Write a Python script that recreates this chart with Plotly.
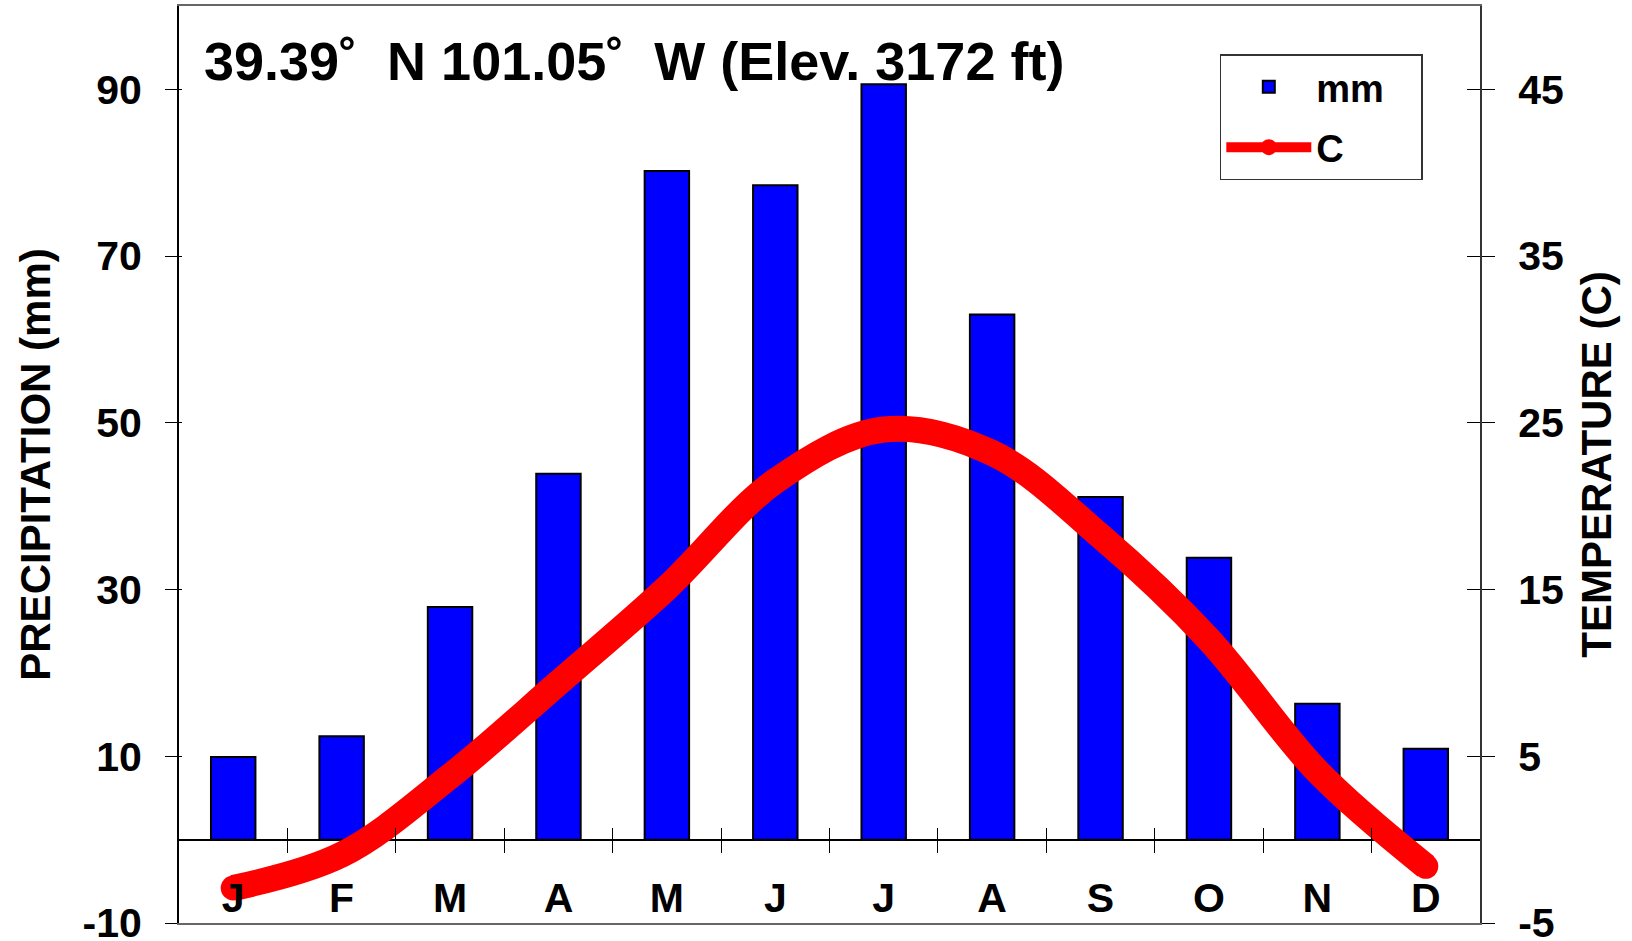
import plotly.graph_objects as go

month_labels = ["J", "F", "M", "A", "M", "J", "J", "A", "S", "O", "N", "D"]
precip_mm = [9.9, 12.4, 27.9, 43.9, 80.2, 78.5, 90.6, 63.0, 41.1, 33.8, 16.3, 10.9]
temp_c = [-2.9, -0.9, 3.8, 9.4, 15.1, 21.5, 24.6, 23.2, 18.2, 12.0, 4.1, -1.6]
left_ticks = [-10, 10, 30, 50, 70, 90]
left_labels = ["-10", "10", "30", "50", "70", "90"]
right_ticks = [-5, 5, 15, 25, 35, 45]
right_labels = ["-5", "5", "15", "25", "35", "45"]
boundaries = [i + 0.5 for i in range(11)]
title_text = "39.39˚  N 101.05˚  W (Elev. 3172 ft)"

FONT = "Liberation Sans"
BLACK = "#000000"
xs = list(range(12))
PAD = "\u00a0\u00a0\u00a0"

fig = go.Figure()
fig.add_trace(go.Bar(
    x=xs, y=precip_mm, name="mm" + PAD, width=0.41, legendgroup="a",
    marker=dict(color="#0000FF", line=dict(color=BLACK, width=2)),
))
fig.add_trace(go.Scatter(
    x=xs, y=temp_c, name="C", yaxis="y2", mode="lines+markers", legendgroup="b",
    line=dict(color="#FF0000", width=26, shape="spline", smoothing=1.0),
    marker=dict(color="#FF0000", size=25, symbol="circle", line=dict(width=0)),
))
# helper empty traces so the decoration axes are drawn
fig.add_trace(go.Scatter(x=[], y=[], xaxis="x2", yaxis="y", showlegend=False))
fig.add_trace(go.Scatter(x=[], y=[], xaxis="x3", yaxis="y", showlegend=False))
fig.add_trace(go.Scatter(x=[], y=[], xaxis="x4", yaxis="y", showlegend=False))
fig.add_trace(go.Scatter(x=[], y=[], xaxis="x", yaxis="y3", showlegend=False))
fig.add_trace(go.Scatter(x=[], y=[], xaxis="x", yaxis="y4", showlegend=False))

tickfont = dict(family=FONT, size=41, color=BLACK, weight="bold")
zero_pos = 10 / 110

fig.update_layout(
    width=1632, height=941,
    margin=dict(l=179, r=152, t=6, b=18),
    paper_bgcolor="white", plot_bgcolor="white",
    xaxis=dict(
        range=[-0.5, 11.5], showticklabels=False,
        ticks="", showgrid=False, zeroline=False,
        showline=True, linecolor="#666666", linewidth=2, mirror=True,
        automargin=False,
    ),
    xaxis4=dict(
        overlaying="x", anchor="free", position=0, range=[-0.5, 11.5],
        tickvals=xs, ticktext=month_labels, ticks="",
        ticklabelposition="inside", ticklabelstandoff=0, ticklabeloverflow="allow",
        tickfont=dict(family=FONT, size=41, color=BLACK, weight="bold"),
        showgrid=False, zeroline=False, showline=False,
    ),
    xaxis2=dict(
        overlaying="x", anchor="free", position=zero_pos, range=[-0.5, 11.5],
        tickvals=boundaries, ticks="outside", ticklen=12, tickwidth=1, tickcolor=BLACK,
        showticklabels=False, showgrid=False, zeroline=False, showline=False,
    ),
    xaxis3=dict(
        overlaying="x", anchor="free", position=zero_pos, range=[-0.5, 11.5],
        tickvals=boundaries, ticks="inside", ticklen=12, tickwidth=1, tickcolor=BLACK,
        showticklabels=False, showgrid=False, zeroline=False, showline=False,
    ),
    yaxis=dict(
        range=[-10, 100], tickvals=left_ticks, ticktext=left_labels,
        ticks="outside", ticklen=12,
        tickwidth=1, tickcolor=BLACK, showgrid=False,
        zeroline=True, zerolinecolor=BLACK, zerolinewidth=1.5,
        showline=True, linecolor=BLACK, linewidth=2,
        tickfont=tickfont, ticklabelstandoff=15, automargin=False,
        ticklabeloverflow="allow",
        title=dict(text="PRECIPITATION (mm)", standoff=19,
                   font=dict(family=FONT, size=42, color=BLACK, weight="bold")),
    ),
    yaxis2=dict(
        overlaying="y", side="right", anchor="x", range=[-5, 50],
        tickvals=right_ticks, ticktext=right_labels,
        ticks="outside", ticklen=13, tickwidth=1, tickcolor=BLACK,
        showgrid=False, zeroline=False, showline=True, linecolor="#333333", linewidth=2,
        tickfont=tickfont, ticklabelstandoff=15, automargin=False,
        ticklabeloverflow="allow",
        title=dict(text="TEMPERATURE (C)", standoff=19,
                   font=dict(family=FONT, size=42, color=BLACK, weight="bold")),
    ),
    yaxis3=dict(
        overlaying="y", side="left", anchor="x", range=[-10, 100], tickvals=left_ticks,
        ticks="inside", ticklen=3, tickwidth=1, tickcolor=BLACK,
        showticklabels=False, showgrid=False, zeroline=False, showline=False,
    ),
    yaxis4=dict(
        overlaying="y", side="right", anchor="x", range=[-5, 50], tickvals=right_ticks,
        ticks="inside", ticklen=13, tickwidth=1, tickcolor=BLACK,
        showticklabels=False, showgrid=False, zeroline=False, showline=False,
    ),
    legend=dict(
        x=0.8, y=0.9476, xanchor="left", yanchor="top",
        bgcolor="white", bordercolor="#333333", borderwidth=1.5,
        font=dict(family=FONT, size=38, color=BLACK, weight="bold"),
        itemwidth=85, tracegroupgap=8,
    ),
    annotations=[dict(
        text=title_text, xref="paper", yref="paper", x=0.018, y=0.94,
        xanchor="left", yanchor="middle", showarrow=False,
        font=dict(family=FONT, size=54, color=BLACK, weight="bold"),
    )],
    showlegend=True,
)

fig.write_html(
    "out.html",
    config={"displayModeBar": False},
    post_script="document.body.style.margin='0';document.body.style.overflow='hidden';",
)
